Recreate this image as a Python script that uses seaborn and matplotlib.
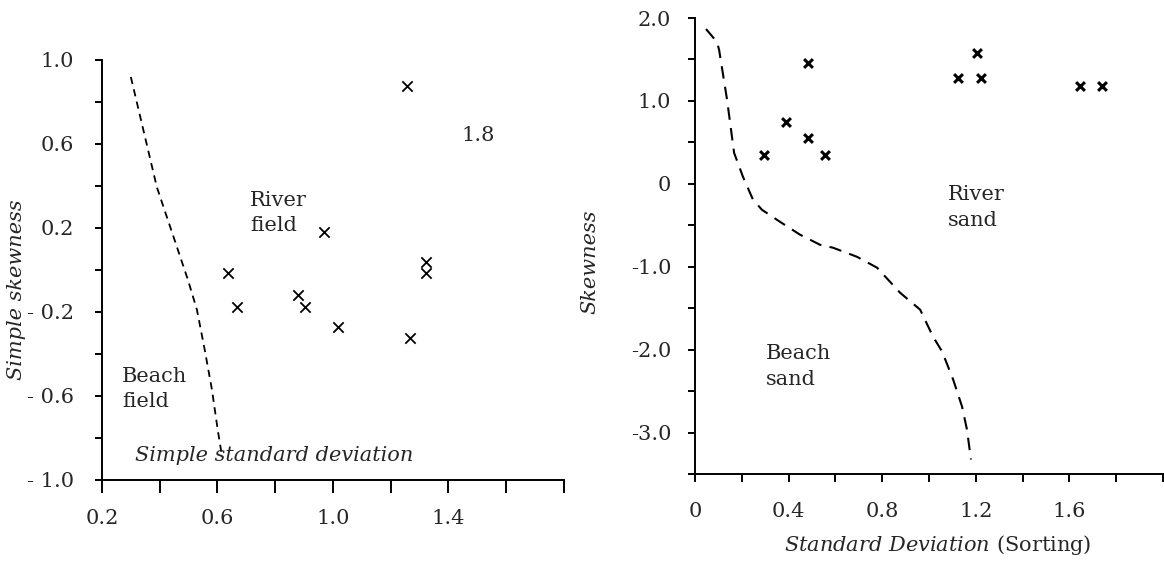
import matplotlib
matplotlib.use('Agg')
import matplotlib.pyplot as plt
import pandas as pd
import seaborn as sns

# left panel: simple sorting vs simple skewness
left_sd = [1.255, 0.968, 0.636, 0.667, 1.321, 1.321, 0.878, 0.902, 1.017, 1.266]
left_skew = [0.876, 0.181, -0.014, -0.176, 0.038, -0.014, -0.119, -0.176, -0.271, -0.324]
left_line_sd = [0.300, 0.390, 0.498, 0.529, 0.556, 0.581, 0.601, 0.615]
left_line_skew = [0.919, 0.395, -0.048, -0.190, -0.381, -0.571, -0.762, -0.881]
left_xticks = [0.2, 0.4, 0.6, 0.8, 1.0, 1.2, 1.4, 1.6, 1.8]
left_xlabels = ['0.2', '', '0.6', '', '1.0', '', '1.4', '', '']
left_yticks = [-1.0, -0.8, -0.6, -0.4, -0.2, 0.0, 0.2, 0.4, 0.6, 0.8, 1.0]
left_ylabels = ['- 1.0', '', '- 0.6', '', '- 0.2', '', '0.2', '', '0.6', '', '1.0']

# right panel: standard deviation (sorting) vs skewness
right_sd = [0.295, 0.389, 0.483, 0.483, 0.556, 1.205, 1.124, 1.222, 1.645, 1.739]
right_skew = [0.35, 0.75, 1.46, 0.55, 0.35, 1.58, 1.28, 1.28, 1.18, 1.18]
right_line_sd = [0.047, 0.094, 0.103, 0.137, 0.167, 0.205, 0.248, 0.286, 0.363, 0.449,
                 0.534, 0.590, 0.692, 0.778, 0.876, 0.962, 1.017, 1.056, 1.103, 1.141,
                 1.162, 1.179]
right_line_skew = [1.867, 1.710, 1.614, 1.012, 0.373, 0.084, -0.193, -0.313, -0.458, -0.614,
                   -0.735, -0.771, -0.880, -1.012, -1.313, -1.518, -1.843, -2.024, -2.361, -2.687,
                   -2.964, -3.325]
right_xticks = [0, 0.2, 0.4, 0.6, 0.8, 1.0, 1.2, 1.4, 1.6, 1.8, 2.0]
right_xlabels = ['0', '', '0.4', '', '0.8', '', '1.2', '', '1.6', '', '']
right_yticks = [-3.5, -3.0, -2.5, -2.0, -1.5, -1.0, -0.5, 0, 0.5, 1.0, 1.5, 2.0]
right_ylabels = ['', '-3.0', '', '-2.0', '', '-1.0', '', '0', '', '1.0', '', '2.0']

sns.set_style('ticks')
plt.rcParams['font.family'] = ['DejaVu Serif']
plt.rcParams['mathtext.fontset'] = 'dejavuserif'
fs = 15
ls = 1.45

fig = plt.figure(figsize=(11.64, 5.61), dpi=100)
ax1 = fig.add_axes([0.0876, 0.1444, 0.3969, 0.7487])
ax2 = fig.add_axes([0.5971, 0.1551, 0.4021, 0.8128])

left_pts = pd.DataFrame({'sd': left_sd, 'skew': left_skew})
left_line = pd.DataFrame({'sd': left_line_sd, 'skew': left_line_skew})
sns.scatterplot(data=left_pts, x='sd', y='skew', marker='x', s=55, color='black',
                linewidth=1.3, ax=ax1)
sns.lineplot(data=left_line, x='sd', y='skew', sort=False, color='black',
             linewidth=1.3, dashes=False, ax=ax1, linestyle=(0, (4, 3)))
ax1.set_xlim(0.2, 1.8)
ax1.set_ylim(-1.0, 1.0)
ax1.set_xticks(left_xticks, left_xlabels)
ax1.set_yticks(left_yticks, left_ylabels)
ax1.tick_params(axis='x', length=9, width=1.4, pad=12, labelsize=fs, color='black')
ax1.tick_params(axis='y', length=5, width=1.4, pad=15, labelsize=fs, color='black')
ax1.set_xlabel('')
ax1.set_ylabel('')
ax1.text(1.504, 0.638, '1.8', fontsize=fs, ha='center', va='center')
ax1.text(0.712, 0.271, 'River\nfield', fontsize=fs, ha='left', va='center', linespacing=ls)
ax1.text(0.269, -0.567, 'Beach\nfield', fontsize=fs, ha='left', va='center', linespacing=ls)
ax1.text(0.314, -0.881, 'Simple standard deviation', fontsize=fs, style='italic',
         ha='left', va='center')
fig.text(17 / 1164, 1 - 290 / 561, 'Simple skewness', fontsize=fs, style='italic',
         rotation=90, ha='center', va='center')

right_pts = pd.DataFrame({'sd': right_sd, 'skew': right_skew})
right_line = pd.DataFrame({'sd': right_line_sd, 'skew': right_line_skew})
sns.scatterplot(data=right_pts, x='sd', y='skew', marker='x', s=40, color='black',
                linewidth=2.2, ax=ax2)
sns.lineplot(data=right_line, x='sd', y='skew', sort=False, color='black',
             linewidth=1.5, dashes=False, ax=ax2, linestyle=(0, (6, 4)))
ax2.set_xlim(0, 2.0)
ax2.set_ylim(-3.5, 2.0)
ax2.set_xticks(right_xticks, right_xlabels)
ax2.set_yticks(right_yticks, right_ylabels)
ax2.tick_params(axis='x', length=6, width=1.4, pad=14, labelsize=fs, color='black')
ax2.tick_params(axis='y', length=5, width=1.4, pad=12, labelsize=fs, color='black')
ax2.set_xlabel('')
ax2.set_ylabel('')
ax2.text(1.081, -0.289, 'River\nsand', fontsize=fs, ha='left', va='center', linespacing=ls)
ax2.text(0.303, -2.205, 'Beach\nsand', fontsize=fs, ha='left', va='center', linespacing=ls)
fig.text(590 / 1164, 1 - 262 / 561, 'Skewness', fontsize=fs, style='italic',
         rotation=90, ha='center', va='center')
fig.text(938 / 1164, 1 - 545 / 561, r'$\it{Standard\ Deviation}$ (Sorting)', fontsize=fs,
         ha='center', va='center')

for ax in (ax1, ax2):
    sns.despine(ax=ax)
    for side in ('left', 'bottom'):
        ax.spines[side].set_linewidth(1.4)
        ax.spines[side].set_color('black')
    ax.set_facecolor('none')

fig.savefig('out.png', dpi=100)
